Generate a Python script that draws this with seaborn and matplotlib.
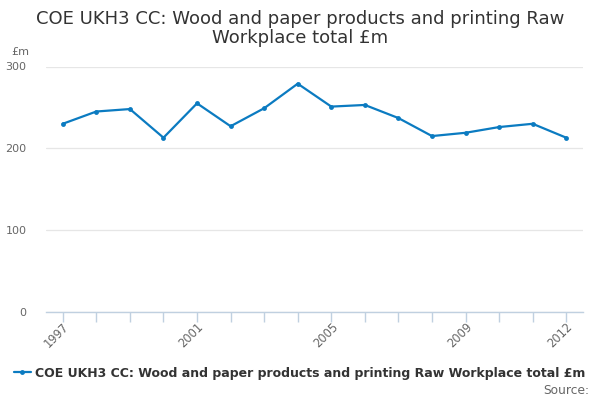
import numpy as np
import pandas as pd
import matplotlib
matplotlib.use("Agg")
import matplotlib.pyplot as plt
import seaborn as sns

# data
years = [1997, 1998, 1999, 2000, 2001, 2002, 2003, 2004,
         2005, 2006, 2007, 2008, 2009, 2010, 2011, 2012]
values = [230, 245, 248, 213, 255, 227, 249, 279,
          251, 253, 237, 215, 219, 226, 230, 213]
label_years = [1997, 2001, 2005, 2009, 2012]
y_ticks = [0, 100, 200, 300]

SERIES = "COE UKH3 CC: Wood and paper products and printing Raw Workplace total £m"
LINE = "#0b7bc1"

sns.set_style("white")
plt.rcParams["font.family"] = ["DejaVu Sans"]

df = pd.DataFrame({"pos": np.arange(len(years)), "value": values})

fig = plt.figure(figsize=(6, 4), dpi=100)
ax = fig.add_axes([46 / 600, 1 - 312 / 400, 537 / 600, 245.5 / 400])

sns.lineplot(data=df, x="pos", y="value", ax=ax, color=LINE, linewidth=1.6,
             marker="o", markersize=3.5, markeredgewidth=0, label=SERIES,
             legend=False)

ax.set_xlim(-0.5, len(years) - 0.5)
ax.set_ylim(0, 300)
ax.set_yticks(y_ticks)
ax.set_yticklabels([str(v) for v in y_ticks], color="#666666", fontsize=8)
ax.yaxis.grid(True, color="#e6e6e6", linewidth=0.9)
ax.set_axisbelow(True)

ax.set_xticks(df["pos"])
ax.set_xticklabels([str(y) if y in label_years else "" for y in years],
                   rotation=45, ha="right", rotation_mode="anchor",
                   color="#666666", fontsize=8.3)
ax.tick_params(axis="x", bottom=True, direction="out", length=7, width=1,
               color="#c0d0e0", pad=-1)
ax.tick_params(axis="y", left=False, length=0, pad=14)

for side in ["top", "right", "left"]:
    ax.spines[side].set_visible(False)
ax.spines["bottom"].set_color("#c0d0e0")
ax.spines["bottom"].set_linewidth(1)
ax.set_xlabel("")
ax.set_ylabel("")

fig.text(0.5, 0.975, "COE UKH3 CC: Wood and paper products and printing Raw\nWorkplace total £m",
         ha="center", va="top", fontsize=13, color="#333333", linespacing=1.1)
fig.text(11 / 600, 1 - 52 / 400, "£m", ha="left", va="center", fontsize=8, color="#666666")

handles, labels = ax.get_legend_handles_labels()
leg = fig.legend(handles, labels, loc="center left", bbox_to_anchor=(0.004, 1 - 373 / 400),
                 frameon=False, handlelength=1.4, handletextpad=0.3,
                 prop={"weight": "bold", "size": 9.0})
for t in leg.get_texts():
    t.set_color("#333333")

fig.text(589 / 600, 1 - 390 / 400, "Source:", ha="right", va="center",
         fontsize=8.8, color="#666666")

fig.savefig("out.png", dpi=100)
